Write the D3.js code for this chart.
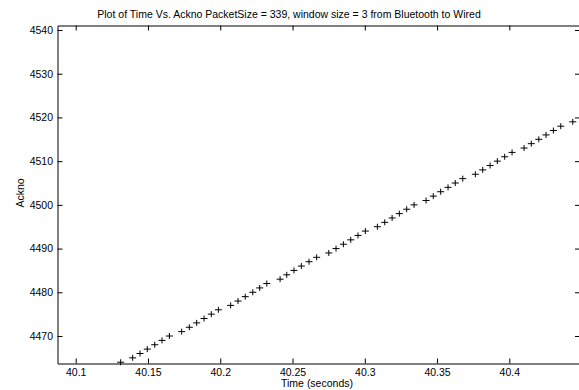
<!DOCTYPE html>
<html>
<head>
<meta charset="utf-8">
<script src="https://cdn.jsdelivr.net/npm/d3@7"></script>
<style>
  body { margin: 0; background: #fff; }
  svg { display: block; font-family: "Liberation Sans", Arial, Helvetica, sans-serif; }
</style>
</head>
<body>
<div id="chart"></div>
<script>
// Ackno numbers and the time (s) each one arrived
var ackno = [4464, 4465, 4466, 4467, 4468, 4469, 4470, 4471, 4472, 4473,
  4474, 4475, 4476, 4477, 4478, 4479, 4480, 4481, 4482, 4483,
  4484, 4485, 4486, 4487, 4488, 4489, 4490, 4491, 4492, 4493,
  4494, 4495, 4496, 4497, 4498, 4499, 4500, 4501, 4502, 4503,
  4504, 4505, 4506, 4507, 4508, 4509, 4510, 4511, 4512, 4513,
  4514, 4515, 4516, 4517, 4518, 4519];
var times = [40.1311, 40.1394, 40.1445, 40.1495, 40.1547, 40.1597, 40.1648, 40.1733, 40.1786, 40.1837,
  40.1888, 40.1938, 40.1987, 40.2072, 40.2123, 40.2173, 40.2225, 40.2273, 40.2322, 40.2414,
  40.2460, 40.2510, 40.2561, 40.2614, 40.2667, 40.2751, 40.2801, 40.2852, 40.2903, 40.2953,
  40.3004, 40.3087, 40.3138, 40.3189, 40.3239, 40.3290, 40.3341, 40.3424, 40.3474, 40.3525,
  40.3576, 40.3626, 40.3678, 40.3765, 40.3816, 40.3867, 40.3917, 40.3968, 40.4019, 40.4102,
  40.4152, 40.4204, 40.4254, 40.4305, 40.4356, 40.4439];

var xTicks = [40.1, 40.15, 40.2, 40.25, 40.3, 40.35, 40.4];
var yTicks = [4470, 4480, 4490, 4500, 4510, 4520, 4530, 4540];
var xDomain = [40.0874, 40.4489];
var yDomain = [4463.71, 4541.03];

var titleText = "Plot of Time Vs. Ackno PacketSize = 339, window size = 3 from Bluetooth to Wired";

// figure size and axes box
const W = 579, H = 390;
const margin = {top: 25.5, right: -1, bottom: 26.5, left: 57.5};
const fontSize = 10.5;

const svg = d3.select("#chart")
  .append("svg")
  .attr("width", W)
  .attr("height", H);

const x = d3.scaleLinear()
  .domain(xDomain)
  .range([margin.left, W - margin.right]);

const y = d3.scaleLinear()
  .domain(yDomain)
  .range([H - margin.bottom, margin.top]);

const fmtX = d => String(+d.toFixed(2));

// matlab style: ticks point inward on all four sides
function styleAxis(g) {
  g.selectAll("path.domain").attr("stroke", "#000").attr("stroke-width", 1);
  g.selectAll(".tick line").attr("stroke", "#000").attr("stroke-width", 1);
  g.selectAll(".tick text").attr("fill", "#000").attr("font-size", fontSize);
}

svg.append("g")
  .attr("transform", `translate(0,${H - margin.bottom})`)
  .call(d3.axisBottom(x).tickValues(xTicks).tickFormat(fmtX)
    .tickSizeInner(-5).tickSizeOuter(0).tickPadding(5))
  .call(styleAxis);

svg.append("g")
  .attr("transform", `translate(0,${margin.top})`)
  .call(d3.axisTop(x).tickValues(xTicks).tickFormat("")
    .tickSizeInner(-5).tickSizeOuter(0))
  .call(styleAxis);

svg.append("g")
  .attr("transform", `translate(${margin.left},0)`)
  .call(d3.axisLeft(y).tickValues(yTicks).tickFormat(d3.format("d"))
    .tickSizeInner(-5).tickSizeOuter(0).tickPadding(4.5))
  .call(styleAxis);

svg.append("g")
  .attr("transform", `translate(${W - margin.right},0)`)
  .call(d3.axisRight(y).tickValues(yTicks).tickFormat("")
    .tickSizeInner(-5).tickSizeOuter(0))
  .call(styleAxis);

// plus markers
const pts = times.map((t, i) => ({t: t, a: ackno[i]}));
const plus = svg.append("g")
  .attr("stroke", "#000")
  .attr("stroke-width", 1)
  .selectAll("g")
  .data(pts)
  .join("g")
  .attr("transform", d => `translate(${x(d.t)},${y(d.a)})`);
plus.append("line").attr("x1", -3.5).attr("x2", 3.5).attr("y1", 0).attr("y2", 0);
plus.append("line").attr("x1", 0).attr("x2", 0).attr("y1", -3).attr("y2", 3);

// title and labels
svg.append("text")
  .attr("x", 289)
  .attr("y", 18)
  .attr("text-anchor", "middle")
  .attr("font-size", fontSize)
  .text(titleText);

svg.append("text")
  .attr("x", 317)
  .attr("y", 387)
  .attr("text-anchor", "middle")
  .attr("font-size", fontSize)
  .text("Time (seconds)");

svg.append("text")
  .attr("transform", "translate(24,193) rotate(-90)")
  .attr("text-anchor", "middle")
  .attr("font-size", fontSize)
  .text("Ackno");
</script>
</body>
</html>
